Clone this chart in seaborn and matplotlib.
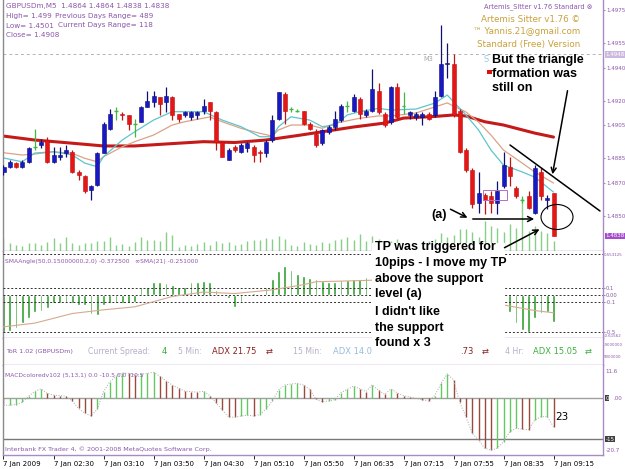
import numpy as np
import pandas as pd
import matplotlib
matplotlib.use("Agg")
import matplotlib.pyplot as plt
import seaborn as sns
from matplotlib.patches import Ellipse, Rectangle, FancyArrowPatch
from matplotlib.lines import Line2D

sns.set_theme(style="white")
plt.rcParams['font.family'] = ['DejaVu Sans']

# ---------------- data (GBPUSDm, M5, 7 Jan 2009) ----------------
opens = [1.4877, 1.4880, 1.4882, 1.4880, 1.4883, 1.4892, 1.4893, 1.4896, 1.4883, 1.4886,
         1.4888, 1.4889, 1.4877, 1.4874, 1.4866, 1.4869, 1.4888, 1.4903, 1.4914, 1.4912,
         1.4911, 1.4906, 1.4907, 1.4916, 1.4919, 1.4922, 1.4919, 1.4922, 1.4912, 1.4911,
         1.4910, 1.4911, 1.4914, 1.4919, 1.4913, 1.4895, 1.4884, 1.4892, 1.4889, 1.4891,
         1.4892, 1.4889, 1.4888, 1.4896, 1.4909, 1.4924, 1.4915, 1.4914, 1.4914, 1.4906,
         1.4900, 1.4894, 1.4901, 1.4904, 1.4908, 1.4917, 1.4914, 1.4921, 1.4911, 1.4914,
         1.4926, 1.4912, 1.4907, 1.4928, 1.4917, 1.4911, 1.4910, 1.4910, 1.4912, 1.4911,
         1.4923, 1.4942, 1.4942, 1.4914, 1.4890, 1.4878, 1.4858, 1.4863, 1.4862, 1.4858,
         1.4868, 1.4880, 1.4867, 1.4860, 1.4862, 1.4852, 1.4877, 1.4860, 1.4864]
highs = [1.4881, 1.4884, 1.4883, 1.4884, 1.4892, 1.4903, 1.4897, 1.4898, 1.4892, 1.4892,
         1.4893, 1.4890, 1.4878, 1.4875, 1.4869, 1.4889, 1.4907, 1.4915, 1.4916, 1.4913,
         1.4911, 1.4909, 1.4917, 1.4926, 1.4926, 1.4922, 1.4928, 1.4923, 1.4912, 1.4914,
         1.4914, 1.4914, 1.4921, 1.4919, 1.4914, 1.4895, 1.4891, 1.4893, 1.4894, 1.4895,
         1.4893, 1.4890, 1.4896, 1.4911, 1.4925, 1.4925, 1.4916, 1.4915, 1.4914, 1.4907,
         1.4903, 1.4903, 1.4905, 1.4914, 1.4918, 1.4920, 1.4924, 1.4922, 1.4915, 1.4939,
         1.4931, 1.4913, 1.4929, 1.4931, 1.4925, 1.4914, 1.4913, 1.4913, 1.4913, 1.4926,
         1.4966, 1.4955, 1.4948, 1.4915, 1.4891, 1.4879, 1.4877, 1.4864, 1.4865, 1.4871,
         1.4889, 1.4886, 1.4868, 1.4862, 1.4865, 1.4881, 1.4879, 1.4863, 1.4864]
lows = [1.4875, 1.4879, 1.4879, 1.4879, 1.4882, 1.4890, 1.4891, 1.4882, 1.4882, 1.4884,
        1.4886, 1.4876, 1.4872, 1.4864, 1.4860, 1.4868, 1.4888, 1.4902, 1.4908, 1.4908,
        1.4902, 1.4898, 1.4907, 1.4916, 1.4916, 1.4911, 1.4913, 1.4908, 1.4907, 1.4910,
        1.4908, 1.4909, 1.4912, 1.4908, 1.4890, 1.4886, 1.4884, 1.4889, 1.4888, 1.4889,
        1.4883, 1.4883, 1.4886, 1.4895, 1.4908, 1.4906, 1.4913, 1.4913, 1.4905, 1.4902,
        1.4892, 1.4893, 1.4900, 1.4902, 1.4907, 1.4913, 1.4913, 1.4909, 1.4910, 1.4913,
        1.4912, 1.4904, 1.4906, 1.4909, 1.4912, 1.4909, 1.4908, 1.4905, 1.4908, 1.4910,
        1.4922, 1.4934, 1.4910, 1.4888, 1.4877, 1.4855, 1.4852, 1.4851, 1.4852, 1.4851,
        1.4867, 1.4868, 1.4861, 1.4858, 1.4854, 1.4851, 1.4860, 1.4854, 1.4838]
closes = [1.4880, 1.4883, 1.4880, 1.4883, 1.4891, 1.4892, 1.4895, 1.4883, 1.4887, 1.4887,
          1.4890, 1.4877, 1.4875, 1.4865, 1.4868, 1.4888, 1.4906, 1.4912, 1.4914, 1.4911,
          1.4906, 1.4906, 1.4916, 1.4920, 1.4923, 1.4918, 1.4923, 1.4911, 1.4909, 1.4913,
          1.4913, 1.4913, 1.4917, 1.4914, 1.4895, 1.4886, 1.4890, 1.4890, 1.4893, 1.4894,
          1.4887, 1.4888, 1.4895, 1.4908, 1.4925, 1.4914, 1.4915, 1.4914, 1.4906, 1.4903,
          1.4893, 1.4902, 1.4904, 1.4909, 1.4917, 1.4917, 1.4922, 1.4912, 1.4914, 1.4927,
          1.4913, 1.4905, 1.4928, 1.4910, 1.4917, 1.4913, 1.4912, 1.4912, 1.4909, 1.4922,
          1.4942, 1.4943, 1.4911, 1.4889, 1.4878, 1.4857, 1.4864, 1.4860, 1.4858, 1.4865,
          1.4881, 1.4874, 1.4862, 1.4860, 1.4855, 1.4879, 1.4862, 1.4861, 1.4838]
volumes = [13, 8, 6, 5, 8, 8, 6, 9, 13, 8,
           14, 8, 6, 8, 8, 10, 10, 14, 6, 7,
           5, 9, 14, 11, 11, 10, 19, 16, 4, 6,
           5, 7, 9, 6, 10, 8, 9, 6, 7, 10,
           11, 11, 13, 12, 15, 12, 6, 5, 9, 7,
           6, 9, 8, 11, 12, 14, 11, 17, 10, 15,
           12, 9, 10, 12, 8, 7, 6, 8, 10, 12,
           18, 14, 16, 22, 22, 19, 14, 30, 25, 23,
           19, 27, 23, 53, 20, 25, 20, 18, 10]

ma_slow_bar = [0, 5, 10, 16, 21, 26, 32, 37, 42, 47, 51, 56, 61, 64, 69, 72, 74, 77, 80, 85, 88]
ma_slow = [1.48985, 1.48961, 1.48945, 1.48925, 1.48925, 1.48937, 1.48951, 1.48946, 1.48961,
           1.48988, 1.49011, 1.49040, 1.49064, 1.49094, 1.49104, 1.49113, 1.49107, 1.49072,
           1.49052, 1.49003, 1.48979]
ma_fast_bar = [0, 3, 5, 8, 11, 13, 15, 16, 19, 21, 24, 27, 29, 32, 35, 38, 41, 43, 44, 46,
               49, 51, 53, 55, 57, 60, 62, 66, 69, 71, 74, 76, 78, 80, 83, 85, 88]
ma_fast = [1.48852, 1.48829, 1.48882, 1.48890, 1.48870, 1.48821, 1.48799, 1.48860, 1.48961,
           1.49011, 1.49082, 1.49133, 1.49133, 1.49133, 1.49082, 1.49042, 1.48981, 1.48981,
           1.49042, 1.49102, 1.49082, 1.49042, 1.49052, 1.49113, 1.49133, 1.49153, 1.49143,
           1.49149, 1.49185, 1.49234, 1.49113, 1.49022, 1.48900, 1.48809, 1.48767, 1.48736,
           1.48645]
ma_mid_bar = [0, 3, 5, 8, 11, 13, 15, 16, 19, 21, 24, 27, 29, 33, 35, 38, 41, 43, 44, 46,
              49, 51, 53, 57, 60, 62, 66, 71, 74, 76, 78, 80, 83, 85, 88]
ma_mid = [1.48884, 1.48870, 1.48876, 1.48890, 1.48880, 1.48850, 1.48829, 1.48860, 1.48920,
          1.48951, 1.48991, 1.49052, 1.49072, 1.49101, 1.49072, 1.49032, 1.49002, 1.48985,
          1.49022, 1.49052, 1.49052, 1.49032, 1.49062, 1.49093, 1.49107, 1.49107, 1.49125,
          1.49186, 1.49131, 1.49070, 1.48991, 1.48900, 1.48821, 1.48767, 1.48700]

angle_vals = [-0.50, -0.48, -0.45, -0.38, -0.31, -0.23, -0.21, -0.18, -0.11, -0.11,
              -0.11, -0.11, -0.14, -0.14, -0.25, -0.27, -0.14, -0.11, -0.11, -0.11,
              -0.11, -0.09, 0.11, 0.11, 0.17, 0.18, 0.16, 0.14, 0.11, 0.11,
              0.17, 0.18, 0.19, 0.17, 0.07, 0.02, -0.04, -0.16, -0.09, 0.00,
              0.03, 0.02, 0.11, 0.21, 0.33, 0.39, 0.34, 0.28, 0.26, 0.23,
              0.21, 0.19, 0.18, 0.18, 0.20, 0.20, 0.21, 0.22, 0.25, 0.30,
              None, None, None, None, None, None, None, None, None, None,
              None, None, None, None, None, None, None, None, None, None,
              None, -0.23, -0.38, -0.47, -0.50, -0.31, -0.24, -0.23, -0.36]
angle_sma_bar = [0, 5, 11, 16, 21, 27, 32, 37, 43, 48, 50, 55, 59, 81, 85, 88]
angle_sma = [-0.43, -0.38, -0.25, -0.20, -0.16, -0.02, 0.04, 0.02, 0.07, 0.14, 0.18, 0.19,
             0.20, -0.15, -0.21, -0.24]
angle_levels = [0.553125, 0.1, 0.0, -0.1, -0.5]

macd_vals = [-2.6, -2.5, -2.3, -1.5, 0.8, 2.6, 3.5, 1.8, 1.2, 1.0,
             0.8, -1.0, -3.7, -5.5, -6.5, -4.0, 2.5, 6.1, 8.2, 9.4,
             9.2, 8.6, 8.8, 9.2, 9.6, 8.2, 6.5, 4.9, 3.7, 2.7,
             2.5, 2.3, 2.6, 1.0, -1.6, -4.3, -6.8, -7.0, -6.5, -6.2,
             -6.5, -6.0, -4.0, -1.0, 3.1, 4.9, 5.3, 5.5, 4.9, 3.3,
             -0.4, -1.2, -1.0, -0.5, 2.1, 3.3, 4.5, 3.5, 2.5, 5.0,
             3.0, 1.5, 3.5, 2.0, 1.0, 0.5, 0.0, -0.5, -1.0, 1.0,
             5.5, 9.1, 6.8, -1.5, -6.8, -12.9, -15.4, -18.4, -19.1, -18.4,
             -16.0, -12.3, -11.1, -11.3, -11.6, -8.0, -6.8, -6.7, -10.5]
macd_levels = [0.0, -15.0]

time_labels = ["7 Jan 2009", "7 Jan 02:30", "7 Jan 03:10", "7 Jan 03:50", "7 Jan 04:30",
               "7 Jan 05:10", "7 Jan 05:50", "7 Jan 06:35", "7 Jan 07:15", "7 Jan 07:55",
               "7 Jan 08:35", "7 Jan 09:15"]
price_ticks = [1.4975, 1.4955, 1.4940, 1.4920, 1.4905, 1.4885, 1.4870, 1.4850]
grid_level = 1.4948
last_price = 1.4838

# ---------------- layout helpers ----------------
W, H = 625, 469
fig = plt.figure(figsize=(W / 100, H / 100), dpi=100)
fig.patch.set_facecolor("white")


def fx(x):
    return x / W


def fy(y):
    return 1 - y / H


def rect(top, bottom):
    return [fx(3), fy(bottom), fx(603) - fx(3), fy(top) - fy(bottom)]


PURPLE = "#8c55aa"
BORDER = "#a68cc2"
XLIM = (-0.08, 95.92)
n = len(opens)
idx = np.arange(n)
RFS = 4.0   # right-axis label size
TINY = 2.9  # long right-edge labels


def style_axes(a):
    a.set_xlim(XLIM)
    a.set_facecolor("white")
    for s in ("top", "bottom", "right"):
        a.spines[s].set_color(BORDER)
        a.spines[s].set_linewidth(1.0)
    a.spines["left"].set_color("#8a8a8a")
    a.spines["left"].set_linewidth(1.0)
    a.spines["top"].set_visible(False)
    a.set_xticks([])


# ---------------- main price panel ----------------
ax_vol = fig.add_axes(rect(0, 251))
ax_vol.set_xlim(XLIM)
ax_vol.set_ylim(0, 251)
ax_vol.vlines(idx, 0, volumes, color="#86cf86", lw=1.0)
ax_vol.axis("off")

ax = fig.add_axes(rect(0, 251))
style_axes(ax)
ax.patch.set_visible(False)
ax.set_ylim(1.482876, 1.498107)

o, h, l, c = map(np.array, (opens, highs, lows, closes))
up, dn, dj = c > o, c < o, c == o
bb, bh = np.minimum(o, c), np.abs(c - o)

ax.axhline(grid_level, color="#b4b4b4", lw=0.7, ls=(0, (3, 3)), zorder=1)

df_ma = pd.DataFrame({"bar": ma_slow_bar, "price": ma_slow})
sns.lineplot(data=df_ma, x="bar", y="price", ax=ax, color="#c41a1a", lw=2.2, zorder=2)
sns.lineplot(x=ma_mid_bar, y=ma_mid, ax=ax, color="#dca286", lw=0.9, zorder=2)
sns.lineplot(x=ma_fast_bar, y=ma_fast, ax=ax, color="#5cc6cc", lw=0.9, zorder=2)

ax.vlines(idx[up], l[up], h[up], color="#101070", lw=0.9, zorder=3)
ax.vlines(idx[dn], l[dn], h[dn], color="#c01414", lw=0.9, zorder=3)
ax.vlines(idx[dj], l[dj], h[dj], color="#44b444", lw=0.9, zorder=3)
ax.hlines(o[dj], idx[dj] - 0.3, idx[dj] + 0.3, color="#44b444", lw=1.0, zorder=3)
ax.bar(idx[up], bh[up], bottom=bb[up], width=0.64, color="#1818c8",
       edgecolor="#101070", lw=0.4, zorder=4)
ax.bar(idx[dn], bh[dn], bottom=bb[dn], width=0.64, color="#e41616",
       edgecolor="#c01010", lw=0.4, zorder=4)
ax.set_xlabel("")
ax.set_ylabel("")

ax.yaxis.tick_right()
ax.set_yticks(price_ticks)
ax.set_yticklabels([f"{t:.4f}" for t in price_ticks])
ax.tick_params(axis="y", colors=BORDER, labelcolor=PURPLE, labelsize=RFS, length=1.5,
               pad=0.6, width=0.8)
tr = ax.get_yaxis_transform()
ax.text(1.004, last_price, f"{last_price:.4f}", transform=tr, fontsize=RFS, color="white",
        va="center", ha="left", clip_on=False, zorder=10,
        bbox=dict(boxstyle="square,pad=0.1", fc="#a44ccc", ec="none"))
ax.text(1.004, grid_level, f"{grid_level:.4f}", transform=tr, fontsize=RFS, color="white",
        va="center", ha="left", clip_on=False, zorder=10,
        bbox=dict(boxstyle="square,pad=0.1", fc="#cdb9e0", ec="none"))

# ---------------- SMA angle panel ----------------
ax2 = fig.add_axes(rect(251, 338))
style_axes(ax2)
ax2.set_ylim(-0.581, 0.595)
av = np.array([np.nan if v is None else v for v in angle_vals], dtype=float)
m = ~np.isnan(av)
ax2.bar(idx[m], av[m], width=0.45, color="#30a030", zorder=2)
for lev in angle_levels:
    ax2.axhline(lev, color="#303030", lw=0.7, ls=(0, (2, 2)), zorder=3)
sns.lineplot(x=angle_sma_bar, y=angle_sma, ax=ax2, color="#d6a98e", lw=0.8, zorder=4)
ax2.set_xlabel("")
ax2.set_ylabel("")
ax2.yaxis.tick_right()
ax2.set_yticks(angle_levels[1:])
ax2.set_yticklabels(["0.1", "0.00", "-0.1", "-0.5"])
ax2.tick_params(axis="y", colors=BORDER, labelcolor=PURPLE, labelsize=3.8, length=1.5,
                pad=0.6, width=0.8)
ax2.text(1.002, 0.955, "0.553125", transform=ax2.transAxes, fontsize=TINY, color=PURPLE,
         va="center", ha="left", clip_on=False)
ax2.text(1.002, 0.02, "-0.61562", transform=ax2.transAxes, fontsize=TINY, color=PURPLE,
         va="center", ha="left", clip_on=False)

# ---------------- ToR strip ----------------
ax_t = fig.add_axes(rect(338, 365))
style_axes(ax_t)
ax_t.set_yticks([])

# ---------------- MACD panel ----------------
ax3 = fig.add_axes(rect(365, 455))
style_axes(ax3)
ax3.set_ylim(-20.9, 12.3)
mv = np.array(macd_vals)
rising = np.r_[False, np.diff(mv) > 0]
cols = np.where(rising, "#62c862", "#9a4a3c")
ax3.axhline(macd_levels[0], color="#a0a0a0", lw=1.0, zorder=1)
ax3.axhline(macd_levels[1], color="#787878", lw=1.0, zorder=1)
ax3.vlines(idx, 0, mv, colors=cols, lw=1.0, zorder=2)
sns.lineplot(x=idx, y=mv, ax=ax3, color="#a8a8a8", lw=0.7, linestyle=":", zorder=3)
ax3.set_xlabel("")
ax3.set_ylabel("")
ax3.set_yticks([])
ax3.set_xticks(np.arange(0, n, 8))
ax3.set_xticklabels(time_labels, ha="left", fontsize=5, color="black")
ax3.tick_params(axis="x", length=3, width=0.6, color="black", pad=1, bottom=True)
t3 = ax3.get_yaxis_transform()
ax3.text(1.004, 0.93, "11.6", transform=ax3.transAxes, fontsize=RFS, color=PURPLE,
         va="center", ha="left", clip_on=False)
ax3.text(1.004, 0.0, "0", transform=t3, fontsize=RFS, color="white", va="center",
         ha="left", clip_on=False, bbox=dict(boxstyle="square,pad=0.1", fc="#404040", ec="none"))
ax3.text(1.017, 0.0, ".00", transform=t3, fontsize=RFS, color=PURPLE, va="center",
         ha="left", clip_on=False)
ax3.text(1.004, -15.0, "-15", transform=t3, fontsize=RFS, color="white", va="center",
         ha="left", clip_on=False, bbox=dict(boxstyle="square,pad=0.1", fc="#404040", ec="none"))
ax3.text(1.004, 0.05, "-20.7", transform=ax3.transAxes, fontsize=RFS, color=PURPLE,
         va="center", ha="left", clip_on=False)

# ---------------- header / indicator texts ----------------
small = dict(fontsize=5.2, color=PURPLE, va="center", ha="left")
fig.text(fx(6), fy(6), "GBPUSDm,M5  1.4864 1.4864 1.4838 1.4838", **small)
fig.text(fx(6), fy(16), "High= 1.499", **small)
fig.text(fx(55), fy(16), "Previous Days Range= 489", **small)
fig.text(fx(6), fy(25.5), "Low= 1.4501", **small)
fig.text(fx(58), fy(25.5), "Current Days Range= 118", **small)
fig.text(fx(6), fy(35), "Close= 1.4908", **small)
fig.text(fx(592), fy(7), "Artemis_Sitter v1.76 Standard \u2297", fontsize=4.8, color=PURPLE,
         va="center", ha="right")
gold = dict(fontsize=6.3, color="#c9a13c", va="center", ha="right")
fig.text(fx(580), fy(19), "Artemis Sitter v1.76 \u00a9", **gold)
fig.text(fx(580), fy(31.5), "\u2122 Yannis.21@gmail.com", **gold)
fig.text(fx(580), fy(44), "Standard (Free) Version", **gold)
fig.text(fx(423), fy(59), "M3", fontsize=4.8, color="#a8a8a8", va="center", ha="left")
fig.text(fx(484), fy(60), "S", fontsize=6, color="#9cc8e8", va="center", ha="left")
fig.add_artist(Rectangle((fx(487), fy(74)), 5 / W, 4 / H, transform=fig.transFigure,
                         fc="#dd1010", ec="none", zorder=5))
fig.add_artist(Rectangle((fx(483), fy(200)), 24 / W, 10 / H, transform=fig.transFigure,
                         fc="none", ec="#b070c8", lw=0.7, zorder=5))

fig.text(fx(5), fy(261), "SMAAngle(50,0.15000000,2,0) -0.372500   \u221eSMA(21) -0.251000",
         fontsize=4.3, color=PURPLE, va="center", ha="left")
fig.text(fx(5), fy(375), "MACDcoloredv102 (5,13,1) 0.0 -10.5 0.0 -10.5",
         fontsize=4.3, color=PURPLE, va="center", ha="left")
fig.text(fx(5), fy(449), "Interbank FX Trader 4, \u00a9 2001-2008 MetaQuotes Software Corp.",
         fontsize=4.6, color=PURPLE, va="center", ha="left")
fig.text(fx(555), fy(417), "23", fontsize=7.5, color="black", va="center", ha="left")

tor_y = fy(351)
tor = [(6, "ToR 1.02 (GBPUSDm)", PURPLE, 4.6), (88, "Current Spread:", "#b6aecb", 5.6),
       (162, "4", "#30b030", 6), (178, "5 Min:", "#b6aecb", 5.6),
       (212, "ADX 21.75", "#8a2020", 6), (266, "\u21c4", "#8a2020", 6),
       (293, "15 Min:", "#b6aecb", 5.6), (333, "ADX 14.07", "#98bcd8", 6),
       (460, ".73", "#8a2020", 6), (482, "\u21c4", "#8a2020", 6),
       (505, "4 Hr:", "#b6aecb", 5.6), (533, "ADX 15.05", "#40b040", 6),
       (585, "\u21c4", "#40b040", 6)]
for xx, s, col, fs in tor:
    fig.text(fx(xx), tor_y, s, fontsize=fs, color=col, va="center", ha="left")
fig.text(fx(604), fy(345), "-9000000", fontsize=TINY, color=PURPLE, va="center", ha="left")
fig.text(fx(604), fy(357), "9000000", fontsize=TINY, color=PURPLE, va="center", ha="left")

# ---------------- pasted annotations ----------------
fig.add_artist(Rectangle((fx(372), fy(338)), 133 / W, 95 / H, transform=fig.transFigure,
                         fc="white", ec="none", zorder=20))
fig.add_artist(Rectangle((fx(372), fy(362)), 88 / W, 25 / H, transform=fig.transFigure,
                         fc="white", ec="none", zorder=20))

note = dict(fontsize=9, fontweight="bold", family=["Liberation Sans", "DejaVu Sans"],
            color="black", va="center", ha="left", zorder=25)
for yy, s in [(60, "But the triangle"), (74, "formation was"), (88, "still on")]:
    fig.text(fx(492), fy(yy), s, **note)
for yy, s in [(247, "TP was triggered for"), (263, "10pips - I move my TP"),
              (278.5, "above the support"), (294, "level (a)"), (312, "I didn't like"),
              (327.5, "the support"), (343, "found x 3")]:
    fig.text(fx(375), fy(yy), s, **note)
fig.text(fx(431), fy(215), "(a)", **note)


def arrow(x0, y0, x1, y1, style="->"):
    fig.add_artist(FancyArrowPatch((fx(x0), fy(y0)), (fx(x1), fy(y1)),
                                   transform=fig.transFigure, arrowstyle=style,
                                   mutation_scale=9, lw=1.1, color="black", zorder=30))


arrow(568, 88, 552, 177)
arrow(448, 208, 470, 219)
arrow(470, 219, 537, 219)
arrow(502, 249, 542, 228)
fig.add_artist(Line2D([fx(510), fx(600)], [fy(145), fy(211)], transform=fig.transFigure,
                      color="black", lw=1.1, zorder=30))
fig.add_artist(Ellipse((fx(557), fy(217)), 32 / W, 25 / H, transform=fig.transFigure,
                       fc="none", ec="black", lw=0.8, zorder=30))

fig.savefig("out.png", dpi=100, facecolor="white")
